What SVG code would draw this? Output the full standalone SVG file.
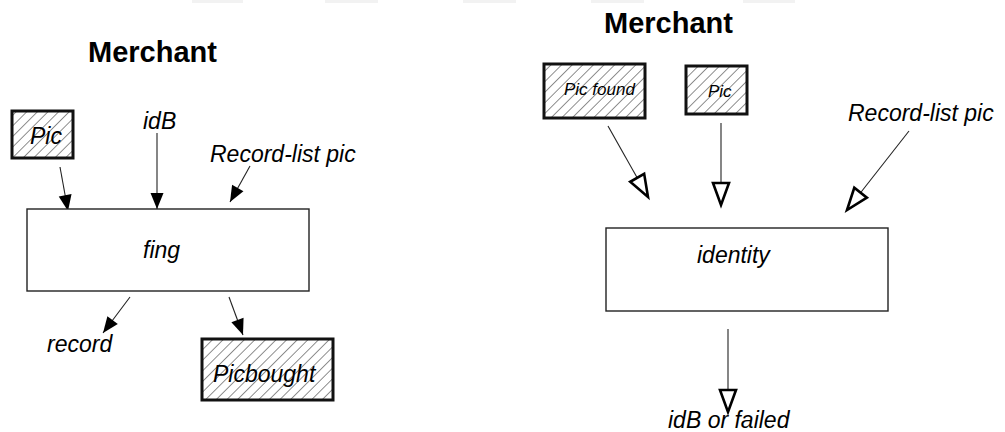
<svg xmlns="http://www.w3.org/2000/svg" width="1005" height="432" viewBox="0 0 1005 432">
<style>
.title{font-family:"Liberation Sans",Arial,sans-serif;font-weight:bold;font-size:29px;fill:#000}
.lbl{font-family:"Liberation Sans",Arial,sans-serif;font-style:italic;font-size:23px;fill:#000}
.sm{font-family:"Liberation Sans",Arial,sans-serif;font-style:italic;font-size:17px;fill:#000}
.proc{fill:#fff;stroke:#222;stroke-width:1.4}
.store{fill:url(#hatch);stroke:#111;stroke-width:3}
.con{stroke:#222;stroke-width:1.1;fill:none}
.filled{marker-end:url(#fa)}
.open{marker-end:url(#oa)}
</style>
<defs>
<pattern id="hatch" patternUnits="userSpaceOnUse" width="7.5" height="7.5" patternTransform="rotate(45)">
<rect width="7.5" height="7.5" fill="#fff"/>
<line x1="0" y1="0" x2="0" y2="7.5" stroke="#333" stroke-width="1.1"/>
</pattern>
<marker id="fa" markerUnits="userSpaceOnUse" markerWidth="18" markerHeight="14" refX="16" refY="6.5" orient="auto" overflow="visible">
<path d="M0,0 L16,6.5 L0,13 z" fill="#000"/>
</marker>
<marker id="oa" markerUnits="userSpaceOnUse" markerWidth="28" markerHeight="20" refX="24" refY="9" orient="auto" overflow="visible">
<path d="M2,1 L24,9 L2,17 z" fill="#fff" stroke="#000" stroke-width="2.6" stroke-linejoin="miter"/>
</marker>
</defs>
<g id="topbars" fill="#f2f2f2">
<rect x="192" y="0" width="51" height="3"/>
<rect x="325" y="0" width="53" height="3"/>
<rect x="463" y="0" width="53" height="3"/>
<rect x="591" y="0" width="53" height="3"/>
<rect x="743" y="0" width="52" height="3"/>
</g>
<g id="titles">
<text class="title" x="88" y="62">Merchant</text>
<text class="title" x="604" y="33">Merchant</text>
</g>
<g id="connectors">
<line class="con filled" x1="60" y1="167" x2="68" y2="211"/>
<line class="con filled" x1="157" y1="133" x2="157" y2="209"/>
<line class="con filled" x1="250" y1="166" x2="230" y2="202"/>
<line class="con filled" x1="130" y1="297" x2="103" y2="333"/>
<line class="con filled" x1="229" y1="297" x2="243" y2="335"/>
<line class="con open" x1="608" y1="126" x2="648" y2="197"/>
<line class="con open" x1="721" y1="123" x2="721" y2="205"/>
<line class="con open" x1="909" y1="131" x2="847" y2="210"/>
<line class="con open" x1="728" y1="329" x2="728" y2="412"/>
</g>
<g id="pic-left">
<rect class="store" x="12" y="111" width="61" height="47"/>
<text class="lbl" x="30" y="144" font-size="24">Pic</text>
</g>
<g id="idB-in"><text class="lbl" x="143" y="129">idB</text></g>
<g id="recordlist-left"><text class="lbl" x="210" y="162">Record-list pic</text></g>
<g id="fing">
<rect class="proc" x="27" y="209" width="282" height="82"/>
<text class="lbl" x="143" y="258">fing</text>
</g>
<g id="record-out"><text class="lbl" x="47" y="352">record</text></g>
<g id="picbought">
<rect class="store" x="202" y="339" width="131" height="61"/>
<text class="lbl" x="213" y="382" font-size="24">Picbought</text>
</g>
<g id="picfound">
<rect class="store" x="544" y="64" width="101" height="54"/>
<text class="sm" x="564" y="95">Pic found</text>
</g>
<g id="pic-right">
<rect class="store" x="686" y="66" width="61" height="48"/>
<text class="sm" x="708" y="97">Pic</text>
</g>
<g id="recordlist-right"><text class="lbl" x="848" y="121" font-size="24">Record-list pic</text></g>
<g id="identity">
<rect class="proc" x="606" y="228" width="282" height="83"/>
<text class="lbl" x="697" y="263" font-size="24">identity</text>
</g>
<g id="idb-failed"><text class="lbl" x="668" y="428" font-size="24">idB or failed</text></g>
</svg>
